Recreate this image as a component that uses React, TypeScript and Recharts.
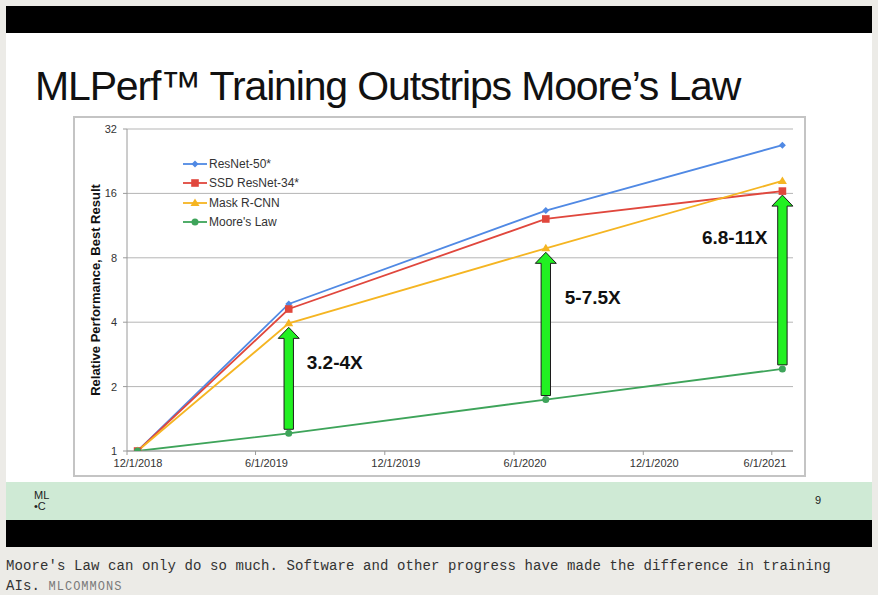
import React from "react";
import { LineChart, Line, XAxis, YAxis, CartesianGrid, Legend, ReferenceLine } from "recharts";

// MLPerf training rounds (v0.5, v0.6, v0.7, v1.0)
const roundDates = ["2018-12-16", "2019-07-18", "2020-07-16", "2021-06-16"];
const resnet50 = [1, 4.87, 13.3, 26.9];
const ssdResnet34 = [1, 4.61, 12.15, 16.4];
const maskRcnn = [1, 3.95, 8.86, 18.3];
const mooresLaw = [1, 1.21, 1.74, 2.42];

const xTickDates = ["2018-12-01", "2019-06-01", "2019-12-01", "2020-06-01", "2020-12-01", "2021-06-01"];
const xTickLabels = ["12/1/2018", "6/1/2019", "12/1/2019", "6/1/2020", "12/1/2020", "6/1/2021"];
const xDomain = ["2018-12-01", "2021-07-01"];
const yTicks = [1, 2, 4, 8, 16, 32];

// speedup over Moore's law, at rounds 1..3
const gainRounds = [1, 2, 3];
const gainLabels = ["3.2-4X", "5-7.5X", "6.8-11X"];

const ts = (d: string) => Date.parse(d);
const xTicks = xTickDates.map(ts);

const data = roundDates.map((d, i) => ({
  date: ts(d),
  resnet50: resnet50[i],
  ssd: ssdResnet34[i],
  mask: maskRcnn[i],
  moore: mooresLaw[i],
}));

const series = [
  { key: "resnet50", name: "ResNet-50*", color: "#5089e4", shape: "diamond" },
  { key: "ssd", name: "SSD ResNet-34*", color: "#e0473d", shape: "square" },
  { key: "mask", name: "Mask R-CNN", color: "#f5b522", shape: "triangle" },
  { key: "moore", name: "Moore's Law", color: "#3ea45a", shape: "circle" },
];

// label placement relative to arrow (pixels)
const labelPlacement = [
  { dx: 18, dy: 39, anchor: "start" },
  { dx: 19, dy: 49, anchor: "start" },
  { dx: -15, dy: 46, anchor: "end" },
];

const FONT = "'Liberation Sans', Arial, sans-serif";

function Marker({ shape, cx, cy, color }: any) {
  if (cx == null || cy == null) return null;
  switch (shape) {
    case "diamond":
      return <polygon points={`${cx},${cy - 3.5} ${cx + 3.5},${cy} ${cx},${cy + 3.5} ${cx - 3.5},${cy}`} fill={color} />;
    case "square":
      return <rect x={cx - 3.8} y={cy - 3.8} width={7.6} height={7.6} fill={color} />;
    case "triangle":
      return <polygon points={`${cx},${cy - 4.5} ${cx + 4.5},${cy + 3} ${cx - 4.5},${cy + 3}`} fill={color} />;
    default:
      return <circle cx={cx} cy={cy} r={3.5} fill={color} />;
  }
}

function GainArrow(props: any) {
  const { x1, y1, y2, label, place } = props;
  if (x1 == null) return null;
  const x = x1;
  const bottom = y1 - 4;
  const tip = y2 + 4;
  const shaft = 4.7;
  const head = 10.5;
  const headLen = 11;
  const pts = [
    [x - shaft, bottom],
    [x - shaft, tip + headLen],
    [x - head, tip + headLen],
    [x, tip],
    [x + head, tip + headLen],
    [x + shaft, tip + headLen],
    [x + shaft, bottom],
  ]
    .map((p) => p.join(","))
    .join(" ");
  return (
    <g>
      <polygon points={pts} fill="#22f022" stroke="#1c1c1c" strokeWidth={1} />
      <text
        x={x + place.dx}
        y={y2 + place.dy}
        textAnchor={place.anchor}
        dominantBaseline="central"
        fontFamily={FONT}
        fontWeight="bold"
        fontSize={19}
        fill="#111"
      >
        {label}
      </text>
    </g>
  );
}

const DateTick = ({ x, y, payload }: any) => {
  const i = xTicks.indexOf(payload.value);
  return (
    <text x={x + 11} y={y} dy="0.71em" textAnchor="middle" fontSize={11} fill="#333" fontFamily={FONT}>
      {xTickLabels[i]}
    </text>
  );
};

const renderLegend = () => (
  <div style={{ fontFamily: FONT, fontSize: 12, color: "#333" }}>
    {series.map((s) => (
      <div key={s.key} style={{ display: "flex", alignItems: "center", height: 19.5 }}>
        <svg width={26} height={12} style={{ display: "block" }}>
          <line x1={1} y1={6} x2={25} y2={6} stroke={s.color} strokeWidth={1.8} />
          <Marker shape={s.shape} cx={13} cy={6} color={s.color} />
        </svg>
        <span style={{ marginLeft: 1 }}>{s.name}</span>
      </div>
    ))}
  </div>
);

function MLPerfChart() {
  return (
    <LineChart width={733} height={361} data={data} margin={{ top: 13, right: 13, left: 0, bottom: 0 }}>
      <CartesianGrid vertical={false} stroke="#b5b5b5" strokeWidth={1} />
      <XAxis
        dataKey="date"
        type="number"
        scale="time"
        domain={xDomain.map(ts)}
        ticks={xTicks}
        tick={<DateTick />}
        tickSize={4}
        tickMargin={4}
        height={26}
        stroke="#9a9a9a"
        allowDataOverflow
      />
      <YAxis
        type="number"
        scale="log"
        domain={[1, 32]}
        ticks={yTicks}
        width={54}
        tickSize={4}
        tickMargin={6}
        stroke="#9a9a9a"
        tick={{ fontSize: 11, fill: "#333", fontFamily: FONT }}
        allowDataOverflow
        label={{
          content: () => (
            <text
              x={22}
              y={174}
              transform="rotate(-90 22 174)"
              textAnchor="middle"
              dominantBaseline="central"
              fontFamily={FONT}
              fontWeight="bold"
              fontSize={13}
              fill="#111"
            >
              Relative Performance, Best Result
            </text>
          ),
        }}
      />
      <Legend
        layout="vertical"
        align="center"
        verticalAlign="middle"
        wrapperStyle={{ top: 38, left: 109, width: "auto" }}
        content={renderLegend}
      />
      {series.map((s) => (
        <Line
          key={s.key}
          type="linear"
          dataKey={s.key}
          name={s.name}
          stroke={s.color}
          strokeWidth={1.8}
          isAnimationActive={false}
          dot={(p: any) => <Marker key={`${s.key}-${p.index}`} shape={s.shape} cx={p.cx} cy={p.cy} color={s.color} />}
          activeDot={false}
        />
      ))}
      {gainRounds.map((r, i) => (
        <ReferenceLine
          key={r}
          ifOverflow="visible"
          segment={[
            { x: data[r].date, y: mooresLaw[r] },
            { x: data[r].date, y: Math.min(ssdResnet34[r], maskRcnn[r]) },
          ]}
          shape={(p: any) => <GainArrow {...p} label={gainLabels[i]} place={labelPlacement[i]} />}
        />
      ))}
    </LineChart>
  );
}

export default function App() {
  return (
    <div
      style={{
        position: "absolute",
        left: 0,
        top: 0,
        width: 878,
        height: 595,
        background: "#ecebe7",
        overflow: "hidden",
      }}
    >
      <div style={{ position: "absolute", left: 6, top: 6, width: 866, height: 27, background: "#000" }} />
      <div style={{ position: "absolute", left: 6, top: 33, width: 866, height: 449, background: "#fff" }} />
      <div
        style={{
          position: "absolute",
          left: 35,
          top: 66,
          fontFamily: FONT,
          fontSize: 41,
          lineHeight: "41px",
          letterSpacing: -1.15,
          color: "#111",
          whiteSpace: "nowrap",
        }}
      >
        MLPerf™ Training Outstrips Moore’s Law
      </div>
      <div
        style={{
          position: "absolute",
          left: 73,
          top: 116,
          width: 733,
          height: 361,
          boxSizing: "border-box",
          border: "2px solid #c4c4c4",
        }}
      />
      <div style={{ position: "absolute", left: 73, top: 116 }}>
        <MLPerfChart />
      </div>
      <div style={{ position: "absolute", left: 6, top: 482, width: 866, height: 38, background: "#cfead5" }} />
      <div
        style={{
          position: "absolute",
          left: 34,
          top: 490,
          fontFamily: "'Liberation Sans Narrow', " + FONT,
          fontSize: 11,
          lineHeight: "11px",
          color: "#222",
        }}
      >
        <div>ML</div>
        <div>•C</div>
      </div>
      <div
        style={{
          position: "absolute",
          left: 815,
          top: 493,
          fontFamily: FONT,
          fontSize: 11,
          lineHeight: "14px",
          color: "#222",
        }}
      >
        9
      </div>
      <div style={{ position: "absolute", left: 6, top: 520, width: 866, height: 27, background: "#000" }} />
      <div
        style={{
          position: "absolute",
          left: 6,
          top: 556,
          width: 870,
          fontFamily: "'Liberation Mono', 'DejaVu Sans Mono', monospace",
          fontSize: 14,
          lineHeight: "20px",
          letterSpacing: 0.1,
          color: "#333",
        }}
      >
        <div style={{ whiteSpace: "nowrap" }}>
          Moore's Law can only do so much. Software and other progress have made the difference in training
        </div>
        <div style={{ whiteSpace: "nowrap" }}>
          AIs.{" "}
          <span style={{ fontSize: 12, letterSpacing: 1, color: "#7a7a7a" }}>MLCOMMONS</span>
        </div>
      </div>
    </div>
  );
}
